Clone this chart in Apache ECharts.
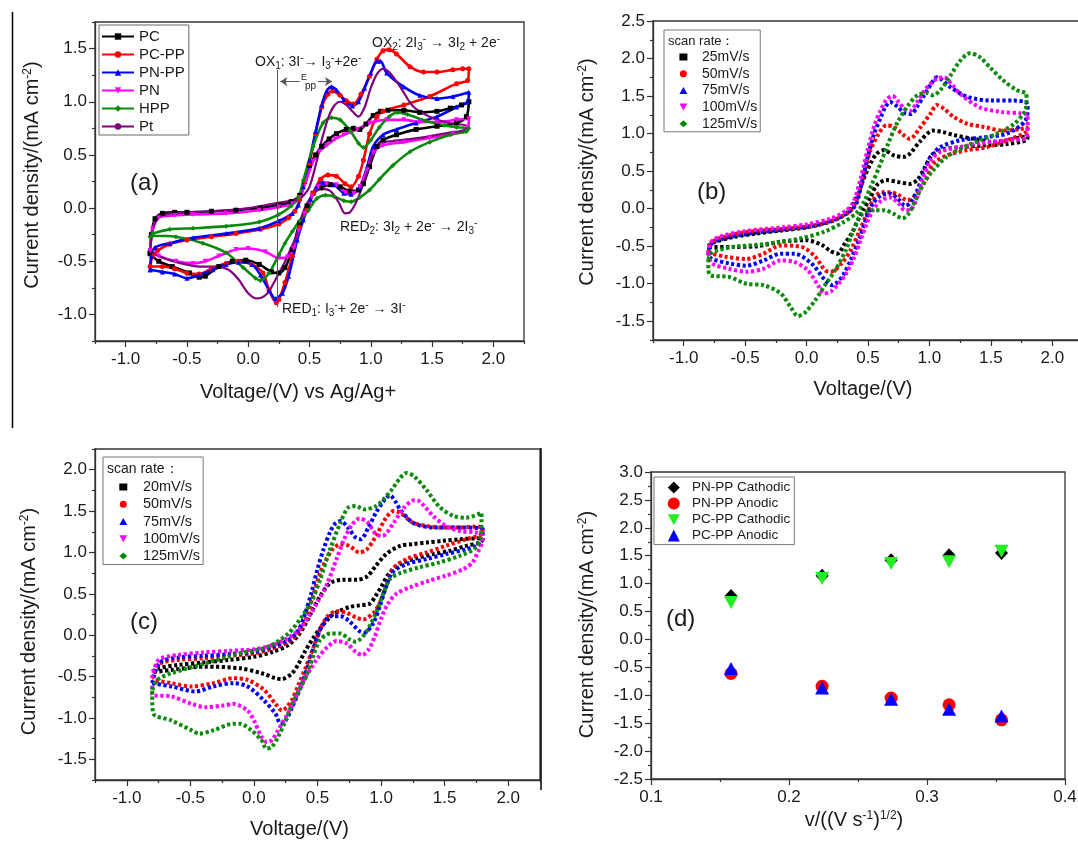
<!DOCTYPE html>
<html><head><meta charset="utf-8">
<script src="https://cdn.jsdelivr.net/npm/echarts@6/dist/echarts.min.js"></script>
<style>html,body{margin:0;padding:0;background:#fff}#c{width:1078px;height:842px}</style>
</head><body><div id="c"></div>
<script>
// ---------------- tick labels ----------------
const VOLT_TICKS = [-1.0,-0.5,0.0,0.5,1.0,1.5,2.0];
const VOLT_MINOR = [-1.25,-0.75,-0.25,0.25,0.75,1.25,1.75,2.25];
const A_Y_TICKS = [-1.0,-0.5,0.0,0.5,1.0,1.5];
const A_Y_MINOR = [-1.25,-0.75,-0.25,0.25,0.75,1.25,1.75];
const B_Y_TICKS = [-1.5,-1.0,-0.5,0.0,0.5,1.0,1.5,2.0,2.5];
const B_Y_MINOR = [-1.75,-1.25,-0.75,-0.25,0.25,0.75,1.25,1.75,2.25];
const C_Y_TICKS = [-1.5,-1.0,-0.5,0.0,0.5,1.0,1.5,2.0];
const C_Y_MINOR = [-1.75,-1.25,-0.75,-0.25,0.25,0.75,1.25,1.75,2.25];
const D_X_TICKS = [0.1,0.2,0.3,0.4];
const D_X_MINOR = [0.15,0.25,0.35];
const D_Y_TICKS = [-2.5,-2.0,-1.5,-1.0,-0.5,0.0,0.5,1.0,1.5,2.0,2.5,3.0];
const D_Y_MINOR = [-2.25,-1.75,-1.25,-0.75,-0.25,0.25,0.75,1.25,1.75,2.25,2.75];

// ---------------- panel (a) : CV of electrodes [V, mA cm-2] ----------------
const a_names = ['PC','PC-PP','PN-PP','PN','HPP','Pt'];
const a_PC = [[-0.8,-0.42],[-0.79,-0.25],[-0.76,-0.1],[-0.7,-0.05],[-0.6,-0.04],[-0.5,-0.04],[-0.3,-0.03],[-0.1,-0.02],[0.1,0.0],[0.25,0.03],[0.35,0.06],[0.42,0.12],[0.46,0.25],[0.5,0.4],[0.55,0.5],[0.6,0.58],[0.66,0.65],[0.72,0.7],[0.8,0.74],[0.86,0.75],[0.91,0.74],[0.96,0.79],[1.02,0.87],[1.08,0.91],[1.14,0.92],[1.27,0.92],[1.4,0.9],[1.54,0.91],[1.65,0.94],[1.74,0.97],[1.8,1.0],
  [1.78,0.86],[1.7,0.8],[1.54,0.77],[1.37,0.74],[1.21,0.69],[1.1,0.64],[1.05,0.58],[0.99,0.39],[0.94,0.23],[0.9,0.17],[0.83,0.16],[0.75,0.2],[0.67,0.22],[0.59,0.19],[0.53,0.14],[0.48,0.02],[0.42,-0.14],[0.36,-0.39],[0.3,-0.56],[0.25,-0.61],[0.19,-0.6],[0.09,-0.53],[-0.02,-0.49],[-0.13,-0.5],[-0.24,-0.55],[-0.35,-0.64],[-0.4,-0.65],[-0.48,-0.61],[-0.62,-0.55],[-0.73,-0.5],[-0.8,-0.43]];
const a_PCPP = [[-0.8,-0.55],[-0.78,-0.45],[-0.74,-0.4],[-0.64,-0.34],[-0.5,-0.3],[-0.3,-0.27],[-0.1,-0.24],[0.1,-0.2],[0.25,-0.15],[0.33,-0.09],[0.38,-0.03],[0.42,0.08],[0.46,0.25],[0.5,0.42],[0.55,0.7],[0.6,0.95],[0.65,1.07],[0.69,1.1],[0.75,1.06],[0.8,1.01],[0.86,0.98],[0.92,1.07],[0.99,1.24],[1.05,1.4],[1.1,1.48],[1.15,1.49],[1.21,1.45],[1.32,1.33],[1.43,1.28],[1.54,1.28],[1.67,1.3],[1.75,1.31],[1.8,1.31],
  [1.79,1.2],[1.7,1.17],[1.48,1.05],[1.27,0.97],[1.1,0.91],[1.05,0.86],[0.99,0.7],[0.94,0.45],[0.9,0.3],[0.84,0.2],[0.79,0.23],[0.72,0.3],[0.65,0.31],[0.59,0.27],[0.53,0.14],[0.48,-0.02],[0.42,-0.18],[0.36,-0.45],[0.3,-0.7],[0.25,-0.86],[0.23,-0.89],[0.17,-0.77],[0.12,-0.61],[0.03,-0.53],[-0.08,-0.5],[-0.18,-0.52],[-0.3,-0.57],[-0.4,-0.62],[-0.5,-0.61],[-0.6,-0.57],[-0.7,-0.55],[-0.8,-0.55]];
const a_PNPP = [[-0.8,-0.58],[-0.79,-0.45],[-0.76,-0.37],[-0.64,-0.33],[-0.45,-0.28],[-0.18,-0.24],[0.09,-0.19],[0.25,-0.12],[0.36,-0.05],[0.41,0.03],[0.45,0.2],[0.5,0.45],[0.55,0.72],[0.6,0.97],[0.64,1.1],[0.68,1.14],[0.72,1.11],[0.78,1.02],[0.85,0.96],[0.9,1.0],[0.95,1.13],[1.0,1.27],[1.05,1.38],[1.08,1.38],[1.13,1.27],[1.27,1.14],[1.4,1.06],[1.54,1.03],[1.67,1.05],[1.8,1.09],
  [1.79,1.0],[1.7,0.95],[1.54,0.86],[1.37,0.8],[1.21,0.74],[1.1,0.69],[1.02,0.58],[0.97,0.39],[0.91,0.2],[0.84,0.13],[0.78,0.14],[0.7,0.22],[0.61,0.24],[0.56,0.2],[0.51,0.08],[0.45,-0.11],[0.4,-0.3],[0.33,-0.64],[0.28,-0.8],[0.22,-0.85],[0.17,-0.77],[0.1,-0.63],[0.03,-0.53],[-0.08,-0.51],[-0.18,-0.53],[-0.29,-0.58],[-0.4,-0.63],[-0.5,-0.66],[-0.6,-0.62],[-0.7,-0.6],[-0.8,-0.58]];
const a_PN = [[-0.8,-0.4],[-0.78,-0.2],[-0.73,-0.09],[-0.6,-0.07],[-0.45,-0.06],[-0.18,-0.05],[0.09,-0.02],[0.25,0.01],[0.36,0.04],[0.42,0.1],[0.47,0.25],[0.53,0.44],[0.58,0.53],[0.64,0.59],[0.71,0.65],[0.78,0.69],[0.89,0.74],[0.99,0.8],[1.13,0.83],[1.27,0.83],[1.4,0.81],[1.54,0.81],[1.7,0.83],[1.8,0.84],
  [1.79,0.76],[1.67,0.7],[1.48,0.66],[1.27,0.62],[1.1,0.59],[1.02,0.52],[0.97,0.36],[0.91,0.2],[0.86,0.14],[0.79,0.15],[0.72,0.22],[0.64,0.23],[0.57,0.2],[0.52,0.11],[0.46,-0.05],[0.41,-0.21],[0.37,-0.38],[0.32,-0.46],[0.25,-0.47],[0.14,-0.41],[0.0,-0.38],[-0.1,-0.39],[-0.24,-0.45],[-0.35,-0.5],[-0.45,-0.52],[-0.59,-0.5],[-0.73,-0.45],[-0.8,-0.4]];
const a_HPP = [[-0.8,-0.27],[-0.78,-0.24],[-0.64,-0.2],[-0.45,-0.19],[-0.18,-0.17],[0.09,-0.13],[0.25,-0.06],[0.35,0.02],[0.41,0.1],[0.45,0.26],[0.53,0.58],[0.61,0.8],[0.68,0.85],[0.75,0.83],[0.83,0.73],[0.9,0.61],[0.94,0.57],[1.0,0.64],[1.07,0.76],[1.15,0.86],[1.22,0.9],[1.3,0.88],[1.45,0.82],[1.6,0.78],[1.7,0.76],[1.8,0.75],
  [1.78,0.72],[1.65,0.69],[1.48,0.62],[1.32,0.53],[1.18,0.4],[1.07,0.27],[0.99,0.17],[0.91,0.1],[0.84,0.06],[0.78,0.07],[0.7,0.11],[0.63,0.12],[0.56,0.09],[0.49,-0.02],[0.42,-0.12],[0.36,-0.22],[0.3,-0.33],[0.25,-0.44],[0.17,-0.61],[0.1,-0.68],[0.06,-0.66],[-0.04,-0.56],[-0.18,-0.42],[-0.37,-0.33],[-0.59,-0.27],[-0.78,-0.26],[-0.8,-0.27]];
const a_Pt = [[-0.8,-0.4],[-0.78,-0.22],[-0.74,-0.1],[-0.68,-0.06],[-0.55,-0.04],[-0.3,-0.03],[0.0,0.0],[0.2,0.04],[0.35,0.07],[0.42,0.09],[0.46,0.13],[0.5,0.2],[0.55,0.4],[0.6,0.64],[0.65,0.84],[0.7,0.96],[0.75,1.0],[0.8,0.97],[0.85,0.91],[0.9,0.86],[0.95,0.95],[1.0,1.13],[1.05,1.26],[1.1,1.31],[1.15,1.28],[1.24,1.14],[1.35,0.95],[1.48,0.86],[1.64,0.8],[1.79,0.77],
  [1.76,0.73],[1.64,0.71],[1.4,0.66],[1.18,0.63],[1.08,0.61],[1.02,0.52],[0.97,0.33],[0.89,0.08],[0.83,-0.04],[0.79,-0.05],[0.74,0.05],[0.67,0.16],[0.59,0.18],[0.51,0.1],[0.45,-0.03],[0.4,-0.24],[0.34,-0.4],[0.28,-0.55],[0.21,-0.7],[0.15,-0.81],[0.07,-0.85],[0.0,-0.8],[-0.08,-0.67],[-0.16,-0.58],[-0.26,-0.55],[-0.4,-0.55],[-0.51,-0.53],[-0.64,-0.49],[-0.75,-0.44],[-0.8,-0.4]];

// ---------------- panel (b) : scan rates ----------------
const b_names = ['25mV/s','50mV/s','75mV/s','100mV/s','125mV/s'];
const b_25 = [[-0.8,-0.5],[-0.76,-0.45],[-0.6,-0.38],[-0.4,-0.33],[-0.2,-0.29],[0.0,-0.25],[0.2,-0.17],[0.3,-0.09],[0.36,0.0],[0.42,0.2],[0.47,0.42],[0.52,0.6],[0.57,0.73],[0.63,0.78],[0.71,0.71],[0.79,0.69],[0.84,0.73],[0.92,0.89],[1.03,1.04],[1.11,1.02],[1.2,0.98],[1.36,0.93],[1.52,0.89],[1.63,0.91],[1.74,0.95],[1.8,0.96],
  [1.79,0.91],[1.63,0.86],[1.44,0.84],[1.25,0.82],[1.09,0.78],[1.01,0.69],[0.95,0.51],[0.9,0.38],[0.84,0.33],[0.76,0.35],[0.65,0.38],[0.57,0.31],[0.52,0.15],[0.46,-0.02],[0.42,-0.15],[0.37,-0.32],[0.31,-0.47],[0.25,-0.6],[0.19,-0.56],[0.13,-0.49],[0.0,-0.42],[-0.21,-0.44],[-0.4,-0.5],[-0.6,-0.51],[-0.77,-0.51],[-0.8,-0.5]];
const b_50 = [[-0.8,-0.58],[-0.77,-0.45],[-0.7,-0.39],[-0.48,-0.31],[-0.19,-0.27],[0.08,-0.22],[0.25,-0.13],[0.35,-0.04],[0.4,0.08],[0.44,0.29],[0.48,0.55],[0.52,0.78],[0.58,0.98],[0.65,1.11],[0.71,1.09],[0.79,0.98],[0.84,0.93],[0.92,1.07],[1.01,1.27],[1.06,1.38],[1.12,1.33],[1.2,1.22],[1.31,1.13],[1.44,1.09],[1.6,1.04],[1.74,1.06],[1.8,1.08],
  [1.79,1.02],[1.63,0.91],[1.47,0.82],[1.31,0.78],[1.14,0.71],[1.03,0.6],[0.98,0.42],[0.92,0.24],[0.87,0.15],[0.82,0.11],[0.75,0.18],[0.68,0.22],[0.61,0.22],[0.54,0.11],[0.49,-0.07],[0.43,-0.3],[0.36,-0.55],[0.28,-0.74],[0.2,-0.84],[0.15,-0.82],[0.07,-0.64],[-0.04,-0.51],[-0.21,-0.49],[-0.35,-0.6],[-0.49,-0.67],[-0.66,-0.64],[-0.77,-0.6],[-0.8,-0.58]];
const b_75 = [[-0.8,-0.62],[-0.78,-0.48],[-0.7,-0.41],[-0.5,-0.34],[-0.2,-0.28],[0.05,-0.23],[0.22,-0.15],[0.33,-0.06],[0.4,0.05],[0.45,0.35],[0.5,0.7],[0.55,1.0],[0.6,1.2],[0.64,1.35],[0.68,1.42],[0.74,1.36],[0.8,1.27],[0.85,1.26],[0.9,1.36],[0.96,1.52],[1.01,1.65],[1.06,1.75],[1.1,1.72],[1.17,1.62],[1.31,1.49],[1.5,1.44],[1.69,1.44],[1.78,1.42],[1.8,1.38],
  [1.78,1.17],[1.63,1.0],[1.44,0.95],[1.25,0.91],[1.09,0.82],[1.01,0.69],[0.95,0.47],[0.9,0.24],[0.84,0.07],[0.8,0.04],[0.75,0.12],[0.68,0.2],[0.61,0.18],[0.54,0.07],[0.49,-0.11],[0.43,-0.4],[0.36,-0.68],[0.3,-0.88],[0.25,-0.98],[0.21,-1.02],[0.15,-0.95],[0.04,-0.73],[-0.1,-0.6],[-0.21,-0.6],[-0.35,-0.69],[-0.49,-0.76],[-0.63,-0.73],[-0.77,-0.67],[-0.8,-0.62]];
const b_100 = [[-0.8,-0.6],[-0.78,-0.45],[-0.7,-0.37],[-0.5,-0.3],[-0.2,-0.25],[0.0,-0.21],[0.2,-0.13],[0.32,-0.03],[0.38,0.08],[0.44,0.4],[0.5,0.8],[0.55,1.1],[0.6,1.3],[0.65,1.45],[0.7,1.5],[0.75,1.42],[0.8,1.32],[0.84,1.3],[0.9,1.42],[0.95,1.55],[1.0,1.65],[1.06,1.73],[1.12,1.75],[1.18,1.66],[1.25,1.53],[1.41,1.35],[1.58,1.29],[1.74,1.27],[1.8,1.25],
  [1.79,0.95],[1.63,0.91],[1.41,0.87],[1.25,0.82],[1.09,0.76],[1.01,0.64],[0.95,0.42],[0.9,0.15],[0.84,-0.02],[0.8,-0.02],[0.75,0.07],[0.68,0.15],[0.61,0.11],[0.54,-0.02],[0.49,-0.2],[0.44,-0.42],[0.38,-0.68],[0.32,-0.87],[0.26,-1.0],[0.2,-1.1],[0.14,-1.13],[0.1,-1.04],[0.01,-0.82],[-0.1,-0.71],[-0.21,-0.69],[-0.35,-0.8],[-0.49,-0.84],[-0.63,-0.8],[-0.77,-0.73],[-0.8,-0.6]];
const b_125 = [[-0.8,-0.68],[-0.78,-0.6],[-0.73,-0.56],[-0.6,-0.51],[-0.33,-0.47],[-0.06,-0.4],[0.14,-0.31],[0.3,-0.18],[0.41,-0.05],[0.47,0.1],[0.53,0.32],[0.59,0.55],[0.66,0.85],[0.74,1.15],[0.82,1.36],[0.9,1.51],[0.98,1.54],[1.03,1.51],[1.09,1.58],[1.17,1.77],[1.25,1.97],[1.33,2.07],[1.41,2.02],[1.5,1.87],[1.6,1.71],[1.71,1.58],[1.79,1.53],
  [1.79,1.46],[1.78,1.31],[1.69,1.13],[1.55,1.0],[1.41,0.91],[1.28,0.82],[1.14,0.69],[1.03,0.51],[0.95,0.33],[0.9,0.16],[0.83,-0.07],[0.78,-0.13],[0.71,-0.07],[0.63,-0.02],[0.54,-0.02],[0.44,-0.09],[0.38,-0.3],[0.32,-0.55],[0.24,-0.8],[0.15,-1.02],[0.07,-1.22],[-0.01,-1.38],[-0.07,-1.43],[-0.13,-1.31],[-0.21,-1.13],[-0.35,-1.02],[-0.49,-1.0],[-0.63,-0.91],[-0.78,-0.89],[-0.8,-0.8],[-0.8,-0.68]];

// ---------------- panel (c) : scan rates ----------------
const c_names = ['20mV/s','50mV/s','75mV/s','100mV/s','125mV/s'];
const c_20 = [[-0.8,-0.44],[-0.75,-0.4],[-0.6,-0.36],[-0.4,-0.33],[-0.2,-0.3],[0.0,-0.26],[0.15,-0.2],[0.27,-0.12],[0.35,0.0],[0.41,0.15],[0.46,0.3],[0.52,0.47],[0.6,0.63],[0.7,0.67],[0.81,0.67],[0.89,0.71],[0.96,0.84],[1.04,0.98],[1.15,1.08],[1.25,1.1],[1.36,1.12],[1.49,1.14],[1.62,1.16],[1.75,1.17],[1.8,1.16],
  [1.78,1.12],[1.67,1.08],[1.54,1.02],[1.41,0.98],[1.28,0.93],[1.15,0.86],[1.06,0.74],[1.0,0.58],[0.96,0.48],[0.91,0.38],[0.83,0.36],[0.75,0.34],[0.67,0.29],[0.62,0.25],[0.57,0.17],[0.52,0.08],[0.46,-0.05],[0.4,-0.2],[0.35,-0.35],[0.3,-0.46],[0.22,-0.53],[0.17,-0.52],[0.06,-0.46],[-0.11,-0.4],[-0.38,-0.38],[-0.65,-0.42],[-0.8,-0.45]];
const c_50 = [[-0.8,-0.52],[-0.75,-0.35],[-0.6,-0.3],[-0.4,-0.28],[-0.2,-0.25],[0.0,-0.22],[0.15,-0.16],[0.27,-0.08],[0.35,0.03],[0.41,0.2],[0.46,0.45],[0.52,0.75],[0.57,0.92],[0.62,1.04],[0.68,1.1],[0.75,1.08],[0.83,1.0],[0.89,1.04],[0.96,1.2],[1.04,1.42],[1.1,1.5],[1.15,1.48],[1.25,1.36],[1.36,1.32],[1.49,1.3],[1.62,1.3],[1.72,1.31],[1.8,1.3],
  [1.79,1.22],[1.67,1.16],[1.51,1.08],[1.36,1.0],[1.2,0.92],[1.09,0.8],[1.04,0.59],[0.99,0.39],[0.94,0.27],[0.86,0.19],[0.81,0.21],[0.73,0.27],[0.65,0.29],[0.58,0.23],[0.52,0.07],[0.47,-0.14],[0.41,-0.38],[0.35,-0.6],[0.3,-0.78],[0.25,-0.88],[0.22,-0.91],[0.17,-0.83],[0.08,-0.66],[-0.05,-0.54],[-0.16,-0.52],[-0.32,-0.58],[-0.49,-0.62],[-0.65,-0.58],[-0.8,-0.54]];
const c_75 = [[-0.8,-0.58],[-0.74,-0.33],[-0.6,-0.27],[-0.4,-0.25],[-0.2,-0.23],[0.0,-0.2],[0.15,-0.14],[0.27,-0.06],[0.35,0.06],[0.4,0.25],[0.45,0.5],[0.5,0.8],[0.55,1.05],[0.6,1.25],[0.64,1.35],[0.68,1.38],[0.74,1.3],[0.8,1.18],[0.84,1.16],[0.9,1.3],[0.96,1.48],[1.02,1.62],[1.07,1.69],[1.11,1.62],[1.15,1.52],[1.25,1.36],[1.41,1.3],[1.54,1.3],[1.67,1.3],[1.8,1.28],
  [1.79,1.12],[1.67,1.04],[1.51,0.98],[1.36,0.92],[1.2,0.86],[1.09,0.76],[1.04,0.59],[0.99,0.35],[0.94,0.15],[0.87,0.03],[0.83,0.05],[0.75,0.17],[0.68,0.23],[0.6,0.23],[0.54,0.12],[0.49,-0.06],[0.43,-0.35],[0.37,-0.62],[0.3,-0.87],[0.25,-1.03],[0.21,-1.07],[0.17,-0.95],[0.08,-0.79],[-0.05,-0.62],[-0.16,-0.58],[-0.32,-0.62],[-0.46,-0.68],[-0.65,-0.62],[-0.8,-0.58]];
const c_100 = [[-0.8,-0.52],[-0.75,-0.3],[-0.6,-0.24],[-0.4,-0.21],[-0.2,-0.19],[0.0,-0.17],[0.15,-0.12],[0.27,-0.03],[0.35,0.06],[0.43,0.22],[0.5,0.4],[0.57,0.6],[0.65,0.92],[0.71,1.16],[0.77,1.33],[0.83,1.41],[0.89,1.37],[0.96,1.22],[1.01,1.2],[1.1,1.36],[1.18,1.54],[1.26,1.63],[1.3,1.62],[1.41,1.44],[1.51,1.32],[1.62,1.26],[1.75,1.24],[1.8,1.2],
  [1.79,1.1],[1.76,1.0],[1.72,0.88],[1.65,0.8],[1.51,0.72],[1.36,0.65],[1.23,0.58],[1.12,0.5],[1.05,0.37],[1.0,0.2],[0.95,-0.02],[0.9,-0.18],[0.85,-0.24],[0.8,-0.2],[0.73,-0.1],[0.65,-0.07],[0.58,-0.14],[0.5,-0.28],[0.45,-0.4],[0.4,-0.52],[0.35,-0.68],[0.3,-0.85],[0.25,-0.99],[0.19,-1.15],[0.14,-1.27],[0.1,-1.29],[0.06,-1.23],[0.0,-1.03],[-0.05,-0.91],[-0.16,-0.83],[-0.24,-0.85],[-0.38,-0.87],[-0.49,-0.83],[-0.65,-0.74],[-0.8,-0.72],[-0.8,-0.6]];
const c_125 = [[-0.8,-0.66],[-0.76,-0.54],[-0.65,-0.46],[-0.38,-0.34],[-0.11,-0.22],[0.11,-0.14],[0.27,0.02],[0.38,0.23],[0.46,0.43],[0.52,0.67],[0.6,1.04],[0.68,1.36],[0.74,1.54],[0.8,1.56],[0.87,1.52],[0.96,1.56],[1.03,1.66],[1.09,1.77],[1.15,1.9],[1.2,1.96],[1.26,1.92],[1.36,1.75],[1.46,1.55],[1.57,1.44],[1.67,1.42],[1.79,1.48],
  [1.79,1.4],[1.78,1.17],[1.73,1.04],[1.62,0.96],[1.46,0.88],[1.3,0.82],[1.15,0.75],[1.07,0.68],[1.02,0.51],[0.96,0.27],[0.91,0.11],[0.86,-0.01],[0.8,-0.08],[0.75,-0.05],[0.68,0.02],[0.6,0.02],[0.52,-0.06],[0.47,-0.24],[0.41,-0.5],[0.35,-0.68],[0.3,-0.83],[0.25,-1.03],[0.19,-1.23],[0.14,-1.35],[0.1,-1.37],[0.06,-1.27],[-0.02,-1.15],[-0.11,-1.07],[-0.16,-1.07],[-0.32,-1.15],[-0.43,-1.19],[-0.49,-1.15],[-0.65,-1.03],[-0.79,-0.95],[-0.8,-0.74],[-0.8,-0.66]];

// ---------------- panel (d) : peak currents vs sqrt(scan rate) ----------------
const d_names = ['PN-PP Cathodic','PN-PP Anodic','PC-PP Cathodic','PC-PP Anodic'];
const d_x = [0.158, 0.224, 0.274, 0.316, 0.354];
const d_PNPP_cath = [0.78, 1.14, 1.42, 1.51, 1.55];
const d_PNPP_anod = [-0.61, -0.84, -1.05, -1.17, -1.44];
const d_PCPP_cath = [0.66, 1.09, 1.36, 1.39, 1.58];
const d_PCPP_anod = [-0.52, -0.87, -1.07, -1.25, -1.37];

// ---------------- style ----------------
const FONT = "'Liberation Sans', Arial, Helvetica, sans-serif";
const AXC = '#333';
const TXT = '#1a1a1a';
const DOWN_TRI = 'path://M0,0L10,0L5,9Z';
const SUPSUB = {
  sup: {fontSize: 12, verticalAlign: 'top', fontFamily: FONT, color: TXT},
  sub: {fontSize: 12, verticalAlign: 'bottom', fontFamily: FONT, color: TXT}
};
const fmt1 = v => Number(v).toFixed(1);

function axisPair(isX, grid, min, max, majors, minors, extra) {
  const main = Object.assign({
    type: 'value', gridIndex: grid, min: min, max: max,
    position: isX ? 'bottom' : 'left',
    axisLine: {show: true, onZero: false, lineStyle: {color: AXC, width: 1.3}},
    axisTick: {show: true, inside: false, length: 6, customValues: majors, lineStyle: {color: AXC, width: 1.2}},
    axisLabel: {show: true, customValues: majors, formatter: fmt1, fontSize: 17, fontFamily: FONT, color: TXT, margin: isX ? 10 : 8},
    splitLine: {show: false},
    nameLocation: 'middle'
  }, extra || {});
  const minor = {
    type: 'value', gridIndex: grid, min: min, max: max,
    position: isX ? 'bottom' : 'left', offset: 0,
    axisLine: {show: false, onZero: false},
    axisTick: {show: true, inside: false, length: 3, customValues: minors, lineStyle: {color: AXC, width: 1.2}},
    axisLabel: {show: false}, splitLine: {show: false}
  };
  return [main, minor];
}
function yName(gap, pad) {
  return {name: 'Current density/(mA cm{sup|-2})', nameGap: gap,
    nameTextStyle: {fontSize: 20, fontFamily: FONT, color: TXT, padding: pad, rich: SUPSUB}};
}
function xName(text, gap, pad) {
  return {name: text, nameGap: gap,
    nameTextStyle: {fontSize: 20, fontFamily: FONT, color: TXT, padding: pad, rich: SUPSUB}};
}

const grids = [
  {left: 95, top: 22, width: 429, height: 319},
  {left: 653, top: 21, width: 430, height: 319},
  {left: 95, top: 449, width: 445, height: 331},
  {left: 651, top: 472, width: 414, height: 307}
].map(g => Object.assign(g, {show: true, borderColor: AXC, borderWidth: 1.3, backgroundColor: 'transparent', containLabel: false, outerBoundsMode: 'none'}));

const xAxes = [].concat(
  axisPair(true, 0, -1.25, 2.25, VOLT_TICKS, VOLT_MINOR, xName('Voltage/(V) vs Ag/Ag+', 41, [0, 23, 0, 0])),
  axisPair(true, 1, -1.25, 2.25, VOLT_TICKS, VOLT_MINOR, xName('Voltage/(V)', 39, [0, 10, 0, 0])),
  axisPair(true, 2, -1.25, 2.25, VOLT_TICKS, VOLT_MINOR, xName('Voltage/(V)', 39, [0, 36, 0, 0])),
  axisPair(true, 3, 0.1, 0.4, D_X_TICKS, D_X_MINOR, xName('v/((V s{sup|-1}){sup|1/2})', 31, [0, 8, 0, 0]))
);
const yAxes = [].concat(
  axisPair(false, 0, -1.25, 1.75, A_Y_TICKS, A_Y_MINOR, yName(53, [0, 0, 0, 13])),
  axisPair(false, 1, -1.75, 2.5, B_Y_TICKS, B_Y_MINOR, yName(56, [0, 0, 0, 17])),
  axisPair(false, 2, -1.75, 2.25, C_Y_TICKS, C_Y_MINOR, yName(56, [0, 14, 0, 0])),
  axisPair(false, 3, -2.5, 3.0, D_Y_TICKS, D_Y_MINOR, yName(54, [0, 0, 0, 2]))
);

function cvSolid(name, data, color, symbol, rot, showSym) {
  return {
    name: name, type: 'line', data: data, xAxisIndex: 0, yAxisIndex: 0,
    smooth: 0.3, symbol: symbol, symbolSize: 5, symbolRotate: rot || 0, showSymbol: showSym,
    lineStyle: {color: color, width: showSym ? 2.6 : 2.2}, itemStyle: {color: color},
    emphasis: {disabled: true}, animation: false
  };
}
function cvDots(name, data, axisIdx, color) {
  return {
    name: name, type: 'line', data: data, xAxisIndex: axisIdx, yAxisIndex: axisIdx,
    smooth: 0.3, showSymbol: false, symbol: 'none',
    lineStyle: {color: color, width: 4, type: [3.2, 2.5], cap: 'butt'}, itemStyle: {color: color},
    emphasis: {disabled: true}, animation: false
  };
}
const GREEN = '#0a8a0a';
const COLORS5 = ['#000000', '#ff0000', '#0000ff', '#ff00ff', GREEN];
const ICONS5 = ['rect', 'circle', 'triangle', DOWN_TRI, 'diamond'];

const ptSeries = cvSolid(a_names[5], a_Pt, '#800080', 'none', 0, false);
ptSeries.markLine = {
  silent: true, animation: false, symbol: ['none', 'none'], label: {show: false},
  lineStyle: {color: '#555', width: 1, type: 'solid'}, emphasis: {disabled: true},
  data: [
    [{coord: [0.234, -0.93]}, {coord: [0.234, 1.30]}],
    [{coord: [0.42, 1.19], symbol: 'none'}, {coord: [0.262, 1.19], symbol: 'arrow', symbolSize: 7}],
    [{coord: [0.57, 1.19], symbol: 'none'}, {coord: [0.684, 1.19], symbol: 'arrow', symbolSize: 7}]
  ]
};

const series = [
  cvSolid(a_names[0], a_PC, '#000000', 'rect', 0, true),
  cvSolid(a_names[1], a_PCPP, '#ff0000', 'circle', 0, true),
  cvSolid(a_names[2], a_PNPP, '#0000ff', 'triangle', 0, true),
  cvSolid(a_names[3], a_PN, '#ff00ff', 'triangle', 180, true),
  cvSolid(a_names[4], a_HPP, GREEN, 'diamond', 0, true),
  ptSeries
];
[b_25, b_50, b_75, b_100, b_125].forEach((d, i) => series.push(cvDots(b_names[i], d, 2, COLORS5[i])));
[c_20, c_50, c_75, c_100, c_125].forEach((d, i) => series.push(cvDots(c_names[i], d, 4, COLORS5[i])));
const dSets = [d_PNPP_cath, d_PNPP_anod, d_PCPP_cath, d_PCPP_anod];
const dColors = ['#000000', '#ff0000', '#22ee22', '#0000ff'];
const dSymbols = ['diamond', 'circle', DOWN_TRI, 'triangle'];
const dSizes = [[13, 14], 13, [14, 13], [14, 13]];
dSets.forEach((vals, i) => series.push({
  name: d_names[i], type: 'scatter', xAxisIndex: 6, yAxisIndex: 6,
  data: d_x.map((x, k) => [x, vals[k]]), symbol: dSymbols[i], symbolSize: dSizes[i],
  itemStyle: {color: dColors[i], opacity: 1}, emphasis: {disabled: true}, animation: false
}));

// legend text with a leading spacer (gap between marker and label)
function legTxt(fs, lh, gap) {
  return {fontSize: fs, lineHeight: lh, fontFamily: FONT, color: TXT,
    rich: {g: {width: gap, fontSize: fs, lineHeight: lh}}};
}
const spacer = name => '{g|}' + name;
const legends = [
  {data: a_names, left: 99, top: 25, orient: 'vertical', itemWidth: 32, itemHeight: 8, itemGap: 3,
   padding: [4, 4, 1, 2], borderColor: '#666', borderWidth: 1, textStyle: {fontSize: 15, lineHeight: 15, fontFamily: FONT, color: TXT}, selectedMode: false},
  {data: b_names.map((n, i) => ({name: n, icon: ICONS5[i]})), left: 664, top: 30, orient: 'vertical',
   itemWidth: 8, itemHeight: 7, itemGap: 2.7, padding: [20, 3, 1, 15.4], borderColor: '#777', borderWidth: 1,
   formatter: spacer, textStyle: legTxt(14, 14, 9.6), selectedMode: false},
  {data: c_names.map((n, i) => ({name: n, icon: ICONS5[i]})), left: 103, top: 457, orient: 'vertical',
   itemWidth: 8, itemHeight: 7, itemGap: 2.25, padding: [22.5, 3, 1, 16.3], borderColor: '#777', borderWidth: 1,
   formatter: spacer, textStyle: legTxt(14.5, 15, 10.6), selectedMode: false},
  {data: d_names.map((n, i) => ({name: n, icon: dSymbols[i]})), left: 654, top: 477, orient: 'vertical',
   itemWidth: 12, itemHeight: 12, itemGap: 2, padding: [3.6, 4, 2, 13.8], borderColor: '#777', borderWidth: 1,
   formatter: spacer, textStyle: legTxt(13.5, 14, 7.2), selectedMode: false}
];

const annStyle = {fontSize: 14, lineHeight: 18, fontWeight: 'normal', fontFamily: FONT, color: TXT,
  rich: {s: {fontSize: 10, verticalAlign: 'bottom', fontFamily: FONT, color: TXT},
         p: {fontSize: 10, verticalAlign: 'top', fontFamily: FONT, color: TXT}}};
const panelStyle = {fontSize: 24, lineHeight: 28, fontWeight: 'normal', fontFamily: FONT, color: TXT};
const titles = [
  {text: 'OX{s|1}: 3I{p|-}→ I{s|3}{p|-}+2e{p|-}', left: 255, top: 53, padding: 0, textStyle: annStyle},
  {text: 'OX{s|2}: 2I{s|3}{p|-} → 3I{s|2} + 2e{p|-}', left: 372, top: 34, padding: 0, textStyle: annStyle},
  {text: 'RED{s|2}: 3I{s|2} + 2e{p|-} → 2I{s|3}{p|-}', left: 340, top: 218, padding: 0, textStyle: annStyle},
  {text: 'RED{s|1}: I{s|3}{p|-}+ 2e{p|-} → 3I{p|-}', left: 282, top: 300, padding: 0, textStyle: annStyle},
  {text: 'E', left: 301, top: 73, padding: 0, textStyle: {fontSize: 9, fontWeight: 'normal', fontFamily: FONT, color: TXT}},
  {text: 'pp', left: 305, top: 81, padding: 0, textStyle: {fontSize: 10, fontWeight: 'normal', fontFamily: FONT, color: TXT}},
  {text: '(a)', left: 130, top: 169, padding: 0, textStyle: panelStyle},
  {text: '(b)', left: 697, top: 178, padding: 0, textStyle: panelStyle},
  {text: '(c)', left: 130, top: 608, padding: 0, textStyle: panelStyle},
  {text: '(d)', left: 666, top: 605, padding: 0, textStyle: panelStyle}
];

const graphic = [
  {type: 'line', shape: {x1: 12.5, y1: 12, x2: 12.5, y2: 428}, style: {stroke: '#000', lineWidth: 1.5}, silent: true},
  {type: 'line', shape: {x1: 541, y1: 448, x2: 541, y2: 790}, style: {stroke: '#000', lineWidth: 1.5}, silent: true},
  {type: 'text', x: 668, y: 41, silent: true, style: {text: 'scan rate：', font: '13px ' + FONT, fill: TXT, verticalAlign: 'middle', align: 'left'}},
  {type: 'text', x: 107, y: 469.5, silent: true, style: {text: 'scan rate：', font: '14px ' + FONT, fill: TXT, verticalAlign: 'middle', align: 'left'}}
];

const chart = echarts.init(document.getElementById('c'), null, {renderer: 'canvas'});
chart.setOption({
  backgroundColor: '#ffffff',
  animation: false,
  title: titles,
  legend: legends,
  grid: grids,
  xAxis: xAxes,
  yAxis: yAxes,
  series: series,
  graphic: graphic
});
</script>
</body></html>
